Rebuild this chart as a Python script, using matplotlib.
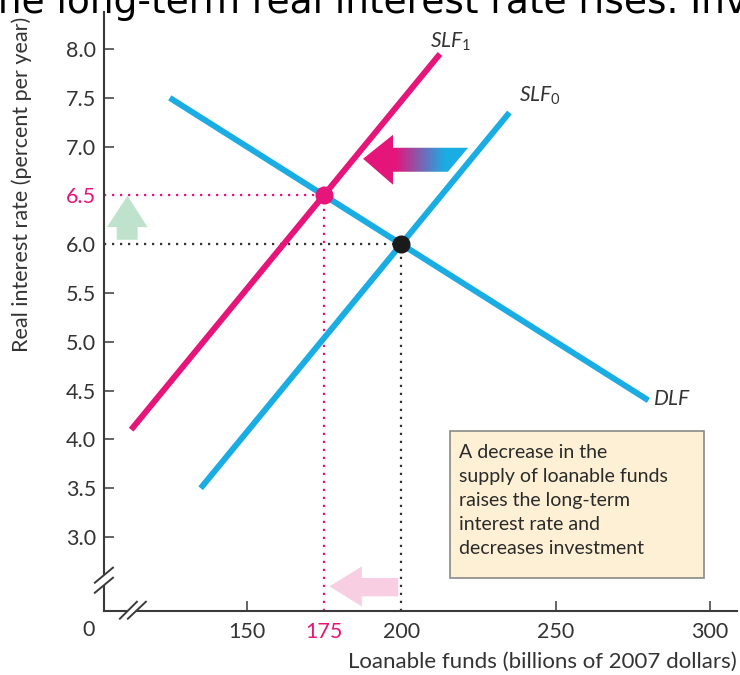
import numpy as np
import matplotlib
matplotlib.use("Agg")
import matplotlib.pyplot as plt
from matplotlib.patches import Polygon, Rectangle

plt.rcParams['font.family'] = ['Lato', 'DejaVu Sans']
plt.rcParams['mathtext.fontset'] = 'custom'
plt.rcParams['mathtext.rm'] = 'Lato'
plt.rcParams['mathtext.it'] = 'Lato:italic'

# curves: supply (before / after the decrease) and demand for loanable funds
slf0_x = [135, 235]
slf0_y = [3.5, 7.35]
slf1_x = [112.5, 212.5]
slf1_y = [4.1, 7.95]
dlf_x = [125, 280]
dlf_y = [7.5, 4.4]

# equilibria
eq0 = (200, 6.0)
eq1 = (175, 6.5)

x_ticks = [150, 175, 200, 250, 300]
y_ticks = [3.0, 3.5, 4.0, 4.5, 5.0, 5.5, 6.0, 6.5, 7.0, 7.5, 8.0]

note = ("A decrease in the\nsupply of loanable funds\nraises the long-term\n"
        "interest rate and\ndecreases investment")

BLUE = '#1AADE4'
MAGENTA = '#E5157A'
AXCOL = '#3a3a3a'
TXT = '#333333'

fig = plt.figure(figsize=(7.4, 6.75), dpi=100)
ax = fig.add_axes([104.3 / 740, 1 - 610.7 / 675, (737 - 104.3) / 740, (610.7 - 12) / 675])
ax.set_xlim(103.8, 308.7)
ax.set_ylim(2.245, 8.38)

for s in ['top', 'right']:
    ax.spines[s].set_visible(False)
for s in ['left', 'bottom']:
    ax.spines[s].set_color(AXCOL)
    ax.spines[s].set_linewidth(1.5)

ax.set_xticks(x_ticks)
ax.set_xticklabels([str(v) for v in x_ticks])
ax.set_yticks(y_ticks)
ax.set_yticklabels([f'{v:.1f}' for v in y_ticks])
ax.tick_params(direction='in', length=7.5, width=1.1, color=AXCOL,
               labelsize=15.5, labelcolor=TXT)
ax.tick_params(axis='y', pad=6)
ax.tick_params(axis='x', pad=8)

# highlight the new equilibrium values
for lab, tk, v in zip(ax.get_xticklabels(), ax.xaxis.get_major_ticks(), x_ticks):
    if v == eq1[0]:
        lab.set_color(MAGENTA)
    if v in (eq0[0], eq1[0]):
        tk.tick1line.set_visible(False)
for lab, tk, v in zip(ax.get_yticklabels(), ax.yaxis.get_major_ticks(), y_ticks):
    if v == eq1[1]:
        lab.set_color(MAGENTA)
    if v in (eq0[1], eq1[1]):
        tk.tick1line.set_visible(False)

ax.text(98.8, 2.05, '0', ha='center', va='center', fontsize=15.5, color=TXT, clip_on=False)

# dotted guides to the axes
x0, y0 = ax.get_xlim()[0], ax.get_ylim()[0]
dots = (0, (1, 2.6))
ax.plot([x0, eq0[0]], [eq0[1], eq0[1]], color=TXT, lw=1.6, ls=dots, zorder=2)
ax.plot([eq0[0], eq0[0]], [y0, eq0[1]], color=TXT, lw=1.6, ls=dots, zorder=2)
ax.plot([x0, eq1[0]], [eq1[1], eq1[1]], color=MAGENTA, lw=1.6, ls=dots, zorder=2)
ax.plot([eq1[0], eq1[0]], [y0, eq1[1]], color=MAGENTA, lw=1.6, ls=dots, zorder=2)

# curves
ax.plot(dlf_x, dlf_y, color=BLUE, lw=4.3, solid_capstyle='butt', zorder=3)
ax.plot(slf0_x, slf0_y, color=BLUE, lw=4.3, solid_capstyle='butt', zorder=3)
ax.plot(slf1_x, slf1_y, color=MAGENTA, lw=4.3, solid_capstyle='butt', zorder=4)
ax.plot(*eq0, 'o', color='#1a1a1a', ms=12, zorder=6)
ax.plot(*eq1, 'o', color=MAGENTA, ms=12, zorder=6)

ax.text(209.3, 8.07, r'$\mathit{SLF}_{\mathrm{1}}$', fontsize=15, color=TXT, va='center')
ax.text(238.1, 7.52, r'$\mathit{SLF}_{\mathrm{0}}$', fontsize=15, color=TXT, va='center')
ax.text(281.6, 4.41, r'$\mathit{DLF}$', fontsize=15, color=TXT, va='center')

# shift arrow with magenta -> blue gradient
shift = Polygon([(187.6, 6.876), (197.3, 7.122), (197.3, 6.989), (221.6, 6.989),
                 (215.1, 6.743), (197.3, 6.743), (197.3, 6.61)],
                closed=True, facecolor='none', edgecolor='none')
ax.add_patch(shift)
c1 = np.array(matplotlib.colors.to_rgb(MAGENTA))
c2 = np.array(matplotlib.colors.to_rgb(BLUE))
t = np.clip((np.linspace(187, 222, 200) - 198) / (214 - 198), 0, 1)
grad = (c1[None, :] * (1 - t[:, None]) + c2[None, :] * t[:, None])[None, :, :]
im = ax.imshow(grad, extent=[187, 222, 6.6, 7.13], aspect='auto', zorder=5, interpolation='bilinear')
im.set_clip_path(shift)

# interest rate rises / quantity falls arrows
ax.add_patch(Polygon([(111.3, 6.497), (117.8, 6.176), (114.6, 6.176), (114.6, 6.046),
                      (107.8, 6.046), (107.8, 6.176), (104.7, 6.176)],
                     closed=True, facecolor='#BEE2CB', edgecolor='none', zorder=3))
ax.add_patch(Polygon([(176.7, 2.494), (187.2, 2.699), (187.2, 2.580), (199.0, 2.580),
                      (199.0, 2.392), (187.2, 2.392), (187.2, 2.289)],
                     closed=True, facecolor='#F8CFE2', edgecolor='none', zorder=3))

# note box
ax.add_patch(Rectangle((215.8, 2.58), 297.9 - 215.8, 4.082 - 2.58, facecolor='#FDF0D4',
                       edgecolor='#8a8a8a', lw=1.2, zorder=3))
ax.text(218.8, 3.95, note, fontsize=14, color='#2a2a2a', va='top', ha='left',
        linespacing=1.5, zorder=4)

# axis break marks
def axis_break(p1, p2, q1, q2):
    ax.add_patch(Polygon([p1, p2, q2, q1], closed=True, facecolor='white',
                         edgecolor='none', zorder=6, clip_on=False))
    for a, b in ((p1, p2), (q1, q2)):
        ax.plot([a[0], b[0]], [a[1], b[1]], color=AXCOL, lw=1.4, zorder=7, clip_on=False)

axis_break((100.75, 2.532), (106.6, 2.686), (100.75, 2.429), (106.6, 2.583))
axis_break((108.85, 2.163), (114.36, 2.337), (111.44, 2.163), (117.27, 2.337))

fig.text(22 / 740, 1 - 184 / 675, 'Real interest rate (percent per year)', rotation=90,
         ha='center', va='center', fontsize=15.5, color=TXT)
fig.text(737 / 740, 1 - 662 / 675, 'Loanable funds (billions of 2007 dollars)',
         ha='right', va='center', fontsize=16, color=TXT)
fig.text(-0.034, 1 - 13 / 675, 'The long-term real interest rate rises. Investment decreases.',
         ha='left', va='baseline', fontsize=27, family='DejaVu Sans', color='black')

fig.savefig('out.png', dpi=100)
